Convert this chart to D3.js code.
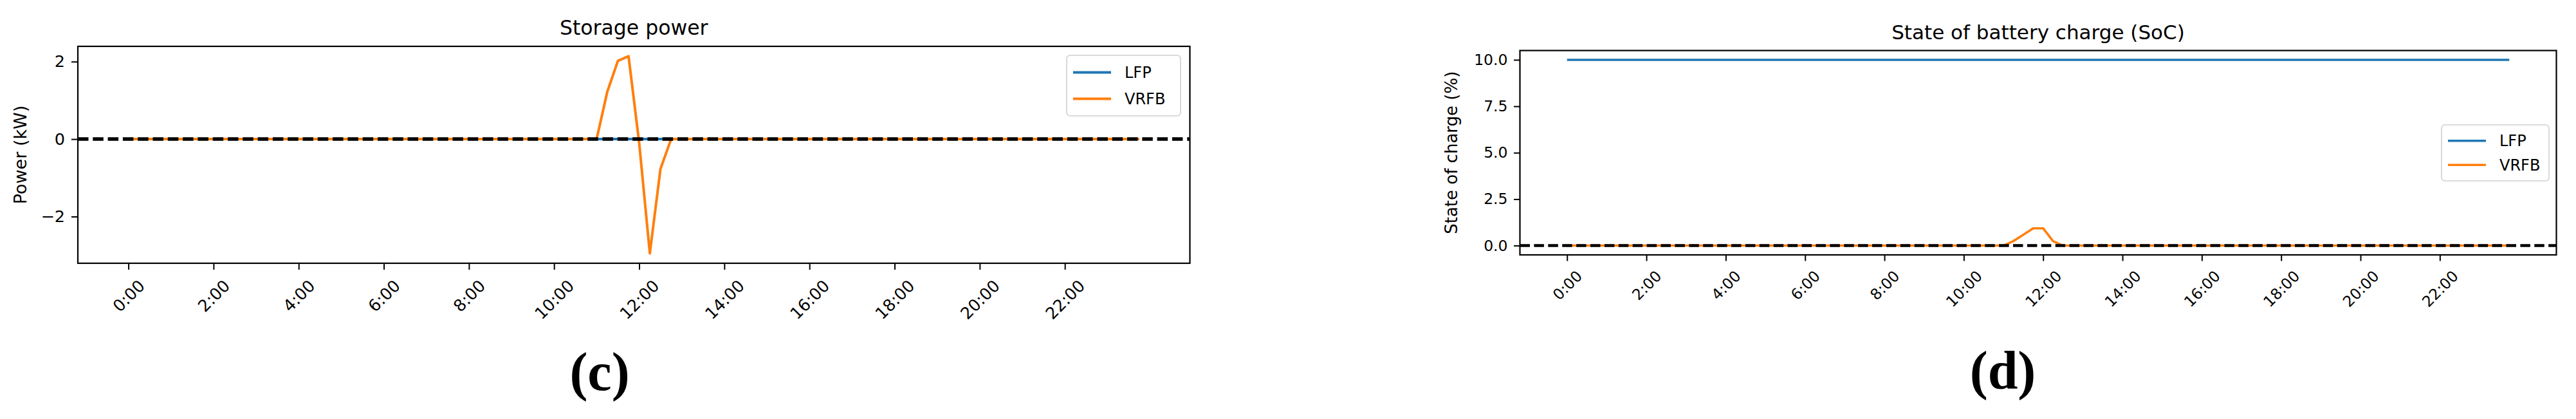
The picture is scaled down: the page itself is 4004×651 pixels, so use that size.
<!DOCTYPE html>
<html>
<head>
<meta charset="utf-8">
<script src="https://cdn.jsdelivr.net/npm/d3@7"></script>
<style>
  body { margin: 0; background: #fff; }
  svg { display: block; }
  text { font-family: "DejaVu Sans", sans-serif; fill: #000; }
  text.tag { font-family: "Liberation Serif", "DejaVu Serif", serif; font-weight: bold; }
</style>
</head>
<body>
<div id="chart"></div>
<script>
var svgWidth = 4004;
var svgHeight = 651;

// sample times in hours (breakpoints of the 15-min series)
var hours = [0, 11, 11.25, 11.5, 11.75, 12, 12.25, 12.5, 12.75, 23.75];

// (c) storage power, kW
var lfpPower = [0, 0, 0, 0, 0, 0, 0, 0, 0, 0];
var vrfbPower = [0, 0, 1.22, 2.02, 2.14, -0.1, -2.95, -0.77, 0, 0];

// (d) state of charge, %
var lfpSoc = [10, 10, 10, 10, 10, 10, 10, 10, 10, 10];
var vrfbSoc = [0, 0, 0.24, 0.58, 0.93, 0.93, 0.24, 0, 0, 0];

var seriesNames = ["LFP", "VRFB"];
var seriesColors = ["#1f77b4", "#ff7f0e"];

var xTickValues = [0, 2, 4, 6, 8, 10, 12, 14, 16, 18, 20, 22];
var xTickLabels = ["0:00", "2:00", "4:00", "6:00", "8:00", "10:00", "12:00",
                   "14:00", "16:00", "18:00", "20:00", "22:00"];

var powerTicks = [-2, 0, 2];
var socTicks = [0, 2.5, 5, 7.5, 10];

var svg = d3.select("#chart")
  .append("svg")
  .attr("width", svgWidth)
  .attr("height", svgHeight);

// matplotlib style 5% margins around the data
function padded(ext) {
  var m = (ext[1] - ext[0]) * 0.05;
  return [ext[0] - m, ext[1] + m];
}

var panels = [
  {
    box: { x0: 121, x1: 1849.5, y0: 72, y1: 409 },
    title: "Storage power",
    ylabel: "Power (kW)",
    ylabelX: 41,
    series: [lfpPower, vrfbPower],
    yTicks: powerTicks,
    yFormat: function(d) { return d < 0 ? "\u2212" + Math.abs(d) : String(d); },
    tickFont: 25.5, titleFont: 31.5, labelFont: 27,
    lineW: 4, dashW: 5.5, dash: "16.5,6.8", tickLen: 10, pad: 10,
    legend: { x: 1658, y: 86, w: 177, h: 94 },
    tag: "(c)", tagX: 932, tagY: 606
  },
  {
    box: { x0: 2362.5, x1: 3973.5, y0: 78.5, y1: 396 },
    title: "State of battery charge (SoC)",
    ylabel: "State of charge (%)",
    ylabelX: 2264.5,
    series: [lfpSoc, vrfbSoc],
    yTicks: socTicks,
    yFormat: d3.format(".1f"),
    tickFont: 23.5, titleFont: 31, labelFont: 26,
    lineW: 3.6, dashW: 4.4, dash: "15.5,6.4", tickLen: 9.5, pad: 9.5,
    legend: { x: 3795, y: 194, w: 167, h: 87 },
    tag: "(d)", tagX: 3113, tagY: 604
  }
];

panels.forEach(function(p) {
  var b = p.box;
  var allY = d3.merge(p.series);

  var xScale = d3.scaleLinear()
    .domain(padded(d3.extent(hours)))
    .range([b.x0, b.x1]);
  var yScale = d3.scaleLinear()
    .domain(padded(d3.extent(allY)))
    .range([b.y1, b.y0]);

  var g = svg.append("g");

  // series lines
  p.series.forEach(function(vals, i) {
    var line = d3.line()
      .x(function(d, j) { return xScale(hours[j]); })
      .y(function(d) { return yScale(d); });
    g.append("path")
      .datum(vals)
      .attr("d", line)
      .attr("fill", "none")
      .attr("stroke", seriesColors[i])
      .attr("stroke-width", p.lineW)
      .attr("stroke-linejoin", "round");
  });

  // dashed zero line over the data
  g.append("line")
    .attr("x1", b.x0).attr("x2", b.x1)
    .attr("y1", yScale(0)).attr("y2", yScale(0))
    .attr("stroke", "#000")
    .attr("stroke-width", p.dashW)
    .attr("stroke-dasharray", p.dash);

  // x axis
  var xAxis = g.append("g")
    .attr("transform", "translate(0," + b.y1 + ")")
    .call(d3.axisBottom(xScale)
      .tickValues(xTickValues)
      .tickFormat(function(d, i) { return xTickLabels[i]; })
      .tickSize(p.tickLen)
      .tickSizeOuter(0));
  xAxis.select(".domain").remove();
  xAxis.selectAll("line").attr("stroke", "#000").attr("stroke-width", 2);
  xAxis.selectAll("text")
    .attr("font-size", p.tickFont)
    .attr("font-family", "DejaVu Sans")
    .attr("fill", "#000")
    .attr("text-anchor", "middle")
    .attr("y", 0)
    .attr("dy", "0.35em")
    .attr("transform", function() {
      var len = this.getComputedTextLength();
      var h = p.tickFont * 1.164;
      var cy = p.tickLen + p.pad + (len + h) * Math.SQRT1_2 / 2;
      return "translate(0," + cy + ") rotate(-45)";
    });

  // y axis
  var yAxis = g.append("g")
    .attr("transform", "translate(" + b.x0 + ",0)")
    .call(d3.axisLeft(yScale)
      .tickValues(p.yTicks)
      .tickFormat(p.yFormat)
      .tickSize(p.tickLen)
      .tickPadding(p.pad)
      .tickSizeOuter(0));
  yAxis.select(".domain").remove();
  yAxis.selectAll("line").attr("stroke", "#000").attr("stroke-width", 2);
  yAxis.selectAll("text")
    .attr("font-size", p.tickFont)
    .attr("font-family", "DejaVu Sans")
    .attr("fill", "#000");

  // frame
  g.append("rect")
    .attr("x", b.x0).attr("y", b.y0)
    .attr("width", b.x1 - b.x0).attr("height", b.y1 - b.y0)
    .attr("fill", "none")
    .attr("stroke", "#000")
    .attr("stroke-width", 2.2);

  // title
  g.append("text")
    .attr("x", (b.x0 + b.x1) / 2)
    .attr("y", b.y0 - 18)
    .attr("text-anchor", "middle")
    .attr("font-size", p.titleFont)
    .text(p.title);

  // y label
  g.append("text")
    .attr("transform", "translate(" + p.ylabelX + "," + (b.y0 + b.y1) / 2 + ") rotate(-90)")
    .attr("text-anchor", "middle")
    .attr("font-size", p.labelFont)
    .text(p.ylabel);

  // legend
  var L = p.legend;
  var lg = g.append("g");
  lg.append("rect")
    .attr("x", L.x).attr("y", L.y)
    .attr("width", L.w).attr("height", L.h)
    .attr("rx", 5)
    .attr("fill", "#fff")
    .attr("fill-opacity", 0.8)
    .attr("stroke", "#d0d0d0")
    .attr("stroke-width", 1.6);
  var rowGap = (L.h - 12) / 2;
  seriesNames.forEach(function(name, i) {
    var cy = L.y + 6 + rowGap * (i + 0.5);
    lg.append("line")
      .attr("x1", L.x + 10).attr("x2", L.x + 69)
      .attr("y1", cy).attr("y2", cy)
      .attr("stroke", seriesColors[i])
      .attr("stroke-width", p.lineW);
    lg.append("text")
      .attr("x", L.x + 90)
      .attr("y", cy)
      .attr("dy", "0.36em")
      .attr("font-size", 24)
      .text(name);
  });

  // panel tag
  svg.append("text")
    .attr("class", "tag")
    .attr("x", p.tagX)
    .attr("y", p.tagY)
    .attr("text-anchor", "middle")
    .attr("font-size", 84)
    .text(p.tag);
});
</script>
</body>
</html>
